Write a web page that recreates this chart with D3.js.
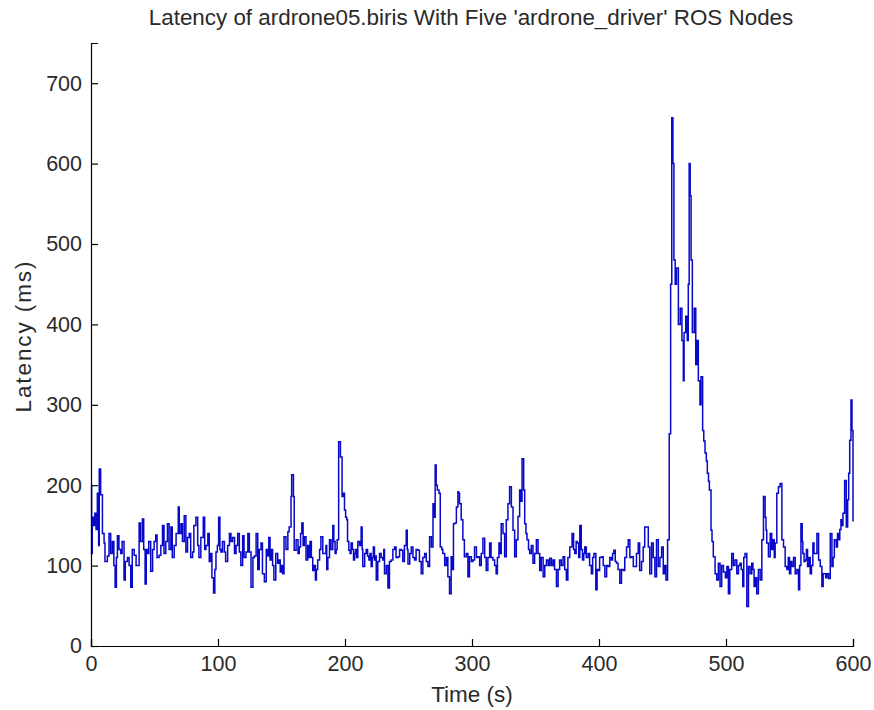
<!DOCTYPE html>
<html>
<head>
<meta charset="utf-8">
<script src="https://cdn.jsdelivr.net/npm/d3@7"></script>
<style>
  html, body { margin: 0; padding: 0; background: #fff; }
  svg { display: block; }
  text { font-family: Arial, "Liberation Sans", sans-serif; fill: #2a2a2a; }
</style>
</head>
<body>
<svg id="chart" width="874" height="710"></svg>
<script>
const titleText = "Latency of ardrone05.biris With Five 'ardrone_driver' ROS Nodes";
const xLabel = "Time (s)";
const yLabel = "Latency (ms)";
const xTicks = [0, 100, 200, 300, 400, 500, 600];
const yTicks = [0, 100, 200, 300, 400, 500, 600, 700];
const xDomain = [0, 600];
const yDomain = [0, 750];

const timeS = [
  0,0.5,1,2,3,4,5,6,6.5,7.6,9,10.3,11,12.9,14.2,15.5,16.8,18,19,20,20.8,22,23.4,24.5,26,27,28.7,30,31.3,32.5,34,35.5,37.9,39,40.5,41.5,42.6,43.5,44.5,45.5,47,48.5,49.7,51,52,53.6,55,56.3,57.5,58.9,60.2,61.5,62.9,64,65.5,67,68.7,69.5,70.8,72,73.4,74.7,76,77.3,78.5,80,81,82.6,84,85,86.5,88.4,89.5,90.5,92,93.1,94,95.2,96.5,97.5,98.4,99.5,
  100.5,101.5,102.3,103.5,105,106,107.6,109,110.2,111.5,113,114.2,115.5,116.8,118,119.4,120.5,122,123.5,124.7,126,127.5,128.6,130,131.3,132.5,133.9,135,136.5,138,139.1,140,141,142,143,144,145.5,147,148,149,150,151,152,153.5,155,156,157.5,158,159.4,160,161.5,163,164,165,166,167,168,169.3,170.6,171.5,172.5,173.5,174.6,175.5,176.7,177.5,178.5,180,181,182.5,184,185,185.6,186.5,187.8,189,190.4,191.2,192.2,193,193.8,195,196.4,197.7,198.5,199.6,
  200.5,201.4,202,203,204,204.8,205.8,206.7,207.5,208.3,209,210.1,211.5,212.7,213.5,214,215.5,216.7,217.8,218.8,219.7,220.6,221.5,222.3,223.2,224,224.6,225.8,227.2,228.5,229.8,230.5,231.1,232.5,233.8,235,236.4,237.7,239,240.2,241.7,243,244.3,245.5,246.8,248.2,249,249.6,251,252.2,253.5,254.8,256,257.4,258.6,260,261.3,262.7,264,265.3,266.6,268,269.3,270.3,271,271.8,272.7,274,275,276.2,277,278.5,279.8,281,282.3,283.6,284.5,285.4,286.5,287.7,288.9,289.5,290.2,291.5,292.8,294,295.5,296.8,298,299.5,
  300.7,302,303.5,304.6,306,307.3,308.6,310,311.2,312.5,313.9,315,316.5,317.8,319,320,321.2,322,323,324.4,325.7,327,328.3,329.6,331,332.3,333.6,334.9,336.2,337.5,338.5,339.4,340.7,341.5,342.5,343.3,344.5,345.4,346.7,348,349.3,350.7,352,353.3,354.5,356,357.3,358.6,360,361.2,362.5,363.8,365,366.5,367.8,369,370.3,371.7,373,374.3,375.5,377,378.8,380,380.9,382,382.8,384,384.9,386,387,388,388.8,390,391.4,392.6,394,395,396,397.5,398.5,399.3,
  400.5,402,403.3,404.6,406,407.2,408.5,409.8,410.7,411.7,412.8,413.8,415,416.4,417.7,419,420.3,421.7,423,424.3,425.6,427,428.3,429.5,430.9,432,433.5,434.8,436,437.5,438.8,440,441.4,442.7,444,445.3,446.7,448,449.3,450.6,451.6,452.7,454,455.3,456.4,457.3,458.2,459,460,461,462.5,464,465.3,466.4,467,468.3,469.5,470.3,471,471.8,472.5,473.5,475,476.2,477,478.2,479.5,480.3,481.6,482.5,483.5,484.5,485.3,486.2,486.9,488.2,489,490,491.4,492.7,494,495.3,496.6,498,499.5,
  500.7,501.9,503,504.5,505.8,507.1,508.5,509.8,511,512,513.2,514,515,516.4,517.7,519,520.3,521.2,522.1,523.2,524.2,525.5,526.9,528.2,529.5,530.8,531.5,532.1,533.4,534.8,536,536.9,538,538.7,540,541.3,542.6,544,545.3,546.6,547.9,549,550,551,551.9,553.2,554.5,555.8,557.1,558,559,560,560.5,561.5,562.4,563.3,564.2,565.2,566.3,567.3,568.4,569.3,570.3,571.6,572.9,574.2,575.5,576.5,577.4,578.5,579.5,580.8,582.1,583.4,584.3,585.3,586.8,587.8,588.7,589.6,590.5,591.3,592.1,593.4,594.7,595.8,596.6,597.4,598.4,599.2,600
];
const latencyMs = [
  200,115,160,150,165,145,190,125,220,188,140,128,105,112,140,115,130,100,73,110,137,120,115,130,82,105,110,100,73,120,113,100,153,130,158,120,77,120,115,130,93,120,130,138,110,113,125,150,115,130,152,120,148,110,125,140,173,140,152,130,162,117,135,140,110,117,150,160,125,110,135,160,120,125,140,105,115,85,66,95,117,125,
  160,120,117,130,117,105,125,140,130,135,115,125,140,117,100,137,110,117,140,117,73,110,112,140,95,120,128,90,80,120,112,135,107,120,100,82,115,103,107,92,100,90,136,120,142,148,186,213,186,119,132,115,123,140,153,125,136,107,125,110,130,110,94,100,82,95,107,120,136,115,115,125,95,110,132,120,150,130,115,120,132,254,235,186,190,169,
  160,157,130,119,115,128,120,107,115,120,110,130,125,148,120,99,115,120,112,107,115,99,110,123,107,112,82,105,115,110,107,120,90,100,72,105,107,120,123,110,111,120,119,105,125,144,120,102,115,123,110,107,120,119,105,90,110,115,105,99,136,123,177,160,225,200,194,190,123,120,115,100,110,86,65,111,95,152,153,173,192,190,177,157,132,111,115,86,111,105,
  107,123,110,111,100,115,134,110,94,110,128,110,107,100,90,110,128,115,152,140,111,157,177,198,173,144,111,132,161,194,180,233,194,152,140,132,120,115,125,103,115,132,115,94,110,86,100,107,100,109,100,107,95,74,95,107,100,111,95,82,110,123,140,120,115,130,128,110,150,120,107,115,123,110,115,100,90,110,115,70,95,94,
  110,111,100,86,100,99,110,107,115,119,105,103,95,78,95,94,110,123,132,110,111,99,99,115,128,94,105,123,148,148,123,90,128,110,86,132,99,110,123,90,100,82,132,264,450,657,600,480,450,470,400,420,380,330,390,410,380,450,600,560,480,390,420,350,380,330,300,335,268,255,240,230,215,205,194,144,130,111,90,82,103,74,100,92,85,
  99,65,95,115,100,107,90,100,103,95,74,110,115,49,99,90,103,95,74,85,65,95,82,132,186,160,144,128,111,140,120,132,110,128,190,198,202,132,123,99,95,110,90,105,99,110,90,95,70,100,152,130,115,105,107,120,99,110,90,100,128,115,115,140,107,99,74,90,90,85,90,84,140,99,110,132,123,140,132,145,157,150,165,206,148,182,215,256,306,268,155
];

const svg = d3.select("#chart");
const margin = { left: 91, right: 21, top: 43, bottom: 64 };
const W = 874, H = 710;

const x = d3.scaleLinear().domain(xDomain).range([margin.left, W - margin.right]);
const y = d3.scaleLinear().domain(yDomain).range([H - margin.bottom, margin.top]);

const data = timeS.map((t, i) => ({ t, v: latencyMs[i] }));

// data line
const line = d3.line().x(d => x(d.t)).y(d => y(d.v)).curve(d3.curveStepAfter);
svg.append("path")
  .datum(data)
  .attr("d", line)
  .attr("fill", "none")
  .attr("stroke", "#0808c8")
  .attr("stroke-width", 1.5);

// axes
const xAxis = d3.axisBottom(x).tickValues(xTicks).tickSize(-7).tickPadding(16).tickFormat(d3.format("d"));
const yAxis = d3.axisLeft(y).tickValues(yTicks).tickSize(-7).tickPadding(16).tickFormat(d3.format("d"));

const gx = svg.append("g").attr("transform", `translate(0,${H - margin.bottom})`).call(xAxis);
const gy = svg.append("g").attr("transform", `translate(${margin.left},0)`).call(yAxis);

[gx, gy].forEach(g => {
  g.select(".domain").attr("stroke", "#000").attr("stroke-width", 1.2);
  g.selectAll(".tick line").attr("stroke", "#000").attr("stroke-width", 1.2);
  g.selectAll(".tick text").attr("font-size", 21.5).attr("fill", "#2a2a2a")
    .attr("font-family", "Arial, 'Liberation Sans', sans-serif");
});
gy.selectAll(".tick text").attr("x", -9);
gx.selectAll(".tick text").attr("y", 10);

// title
svg.append("text")
  .attr("x", 471).attr("y", 25)
  .attr("text-anchor", "middle")
  .attr("font-size", 22.4)
  .text(titleText);

// x label
svg.append("text")
  .attr("x", 472).attr("y", 702)
  .attr("text-anchor", "middle")
  .attr("font-size", 22.5)
  .text(xLabel);

// y label
svg.append("text")
  .attr("transform", "translate(31,337) rotate(-90)")
  .attr("text-anchor", "middle")
  .attr("font-size", 22.5)
  .attr("textLength", 151)
  .attr("lengthAdjust", "spacing")
  .text(yLabel);
</script>
</body>
</html>
